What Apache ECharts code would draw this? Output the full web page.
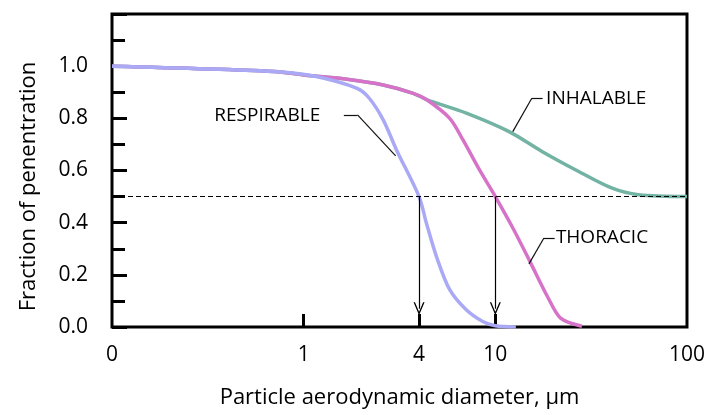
<!DOCTYPE html>
<html>
<head>
<meta charset="utf-8">
<script src="https://cdn.jsdelivr.net/npm/echarts@6/dist/echarts.min.js"></script>
<style>
  html, body { margin: 0; padding: 0; background: #fff; }
  #chart { width: 708px; height: 415px; }
</style>
</head>
<body>
<div id="chart"></div>
<script>
// particle diameter (µm) and fraction values
var respirable = [
  [0.1, 1.0], [0.7, 0.98], [1.13, 0.962], [1.9, 0.915], [2.2, 0.877],
  [2.6, 0.794], [3.05, 0.679], [4, 0.5], [4.37, 0.398], [4.93, 0.27],
  [5.78, 0.143], [7.05, 0.066], [8.6, 0.021], [10, 0.005], [12.8, 0.0]
];
var thoracic = [
  [0.1, 1.0], [0.7, 0.98], [1.13, 0.962], [1.68, 0.95], [2.6, 0.928],
  [3.73, 0.896], [4.37, 0.872], [5.78, 0.80], [6.78, 0.717], [8.27, 0.602],
  [10, 0.5], [12.5, 0.372], [15.3, 0.245], [18.7, 0.117], [21.9, 0.034], [28.3, 0.003]
];
var inhalable = [
  [0.1, 1.0], [0.7, 0.98], [1.13, 0.962], [1.68, 0.95], [2.6, 0.928],
  [3.73, 0.896], [4.37, 0.872], [7.06, 0.82], [11.8, 0.749], [17.6, 0.672],
  [26.3, 0.602], [40.7, 0.532], [56, 0.507], [100, 0.5]
];

var xLabelValues = [0.1, 1, 4, 10, 100];
var xLabelText = ['0', '1', '4', '10', '100'];
var xTickValues = [1, 4, 10];
var cutoff = 0.5;
var cutPoints = [4, 10];

// annotation text and leader lines (data coordinates)
var notes = [
  { name: 'RESPIRABLE', at: [1.22, 0.81], side: 'right',
    leader: [[1.62, 0.813], [1.91, 0.813], [3.02, 0.656]] },
  { name: 'INHALABLE', at: [18.4, 0.877], side: 'left',
    leader: [[17.65, 0.877], [15.5, 0.877], [12.33, 0.749]] },
  { name: 'THORACIC', at: [20.7, 0.341], side: 'left',
    leader: [[20.4, 0.341], [17.93, 0.341], [14.98, 0.242]] }
];

var FONT = 'Open Sans';
var chart = echarts.init(document.getElementById('chart'));

var leaderLines = [];
notes.forEach(function (n) {
  for (var i = 0; i < n.leader.length - 1; i++) {
    leaderLines.push([{ coord: n.leader[i] }, { coord: n.leader[i + 1] }]);
  }
});

var arrowLines = cutPoints.map(function (x) {
  return [{ coord: [x, cutoff] }, { coord: [x, 0.07] }];
});

var notePoints = notes.map(function (n) {
  return {
    coord: n.at,
    label: { formatter: n.name, align: n.side }
  };
});

chart.setOption({
  animation: false,
  grid: {
    left: 112, right: 18, top: 14, bottom: 88,
    show: true, borderColor: '#000', borderWidth: 3
  },
  xAxis: {
    type: 'log',
    logBase: 10,
    min: 0.1,
    max: 100,
    name: 'Particle aerodynamic diameter, µm',
    nameLocation: 'middle',
    nameGap: 60,
    nameTextStyle: { fontFamily: FONT, fontSize: 22, color: '#000' },
    axisLine: { show: false },
    splitLine: { show: false },
    minorTick: { show: false },
    axisTick: {
      inside: true, length: 13, customValues: xTickValues,
      lineStyle: { color: '#000', width: 3 }
    },
    axisLabel: {
      customValues: xLabelValues,
      margin: 18,
      fontFamily: FONT, fontSize: 21, color: '#000',
      formatter: function (v) {
        for (var i = 0; i < xLabelValues.length; i++) {
          if (Math.abs(v - xLabelValues[i]) < 1e-6 * xLabelValues[i]) return xLabelText[i];
        }
        return '';
      }
    }
  },
  yAxis: {
    type: 'value',
    min: 0,
    max: 1.2,
    interval: 0.2,
    name: 'Fraction of penentration',
    nameLocation: 'middle',
    nameGap: 72,
    nameTextStyle: { fontFamily: FONT, fontSize: 22, color: '#000', padding: [0, 32, 0, 0] },
    axisLine: { show: false },
    splitLine: { show: false },
    axisTick: { inside: true, length: 15, lineStyle: { color: '#000', width: 3 } },
    minorTick: { show: true, splitNumber: 2, length: 13, lineStyle: { color: '#000', width: 3 } },
    axisLabel: {
      margin: 24,
      fontFamily: FONT, fontSize: 21, color: '#000',
      formatter: function (v) { return v > 1.05 ? '' : v.toFixed(1); }
    }
  },
  series: [
    {
      name: 'INHALABLE',
      type: 'line',
      data: inhalable,
      symbol: 'none',
      smooth: 0.3,
      z: 2,
      lineStyle: { color: '#72b3a3', width: 3.5 },
      markLine: {
        silent: true,
        symbol: 'none',
        lineStyle: { color: '#111', width: 1.2, type: 'solid' },
        label: { show: false },
        data: leaderLines
      },
      markPoint: {
        silent: true,
        symbol: 'circle',
        symbolSize: 1,
        itemStyle: { color: 'rgba(0,0,0,0)' },
        label: {
          show: true, position: 'inside', verticalAlign: 'middle',
          fontFamily: FONT, fontSize: 19, color: '#000'
        },
        data: notePoints
      }
    },
    {
      name: 'THORACIC',
      type: 'line',
      data: thoracic,
      symbol: 'none',
      smooth: 0.3,
      z: 3,
      lineStyle: { color: '#d673c9', width: 3.5 },
      markLine: {
        silent: true,
        symbol: ['none', 'path://M5,0 L10,12 L8.7,12 L5,3.2 L1.3,12 L0,12 Z'],
        symbolSize: [11, 13],
        lineStyle: { color: '#000', width: 1.2, type: 'solid' },
        label: { show: false },
        data: arrowLines
      }
    },
    {
      name: 'RESPIRABLE',
      type: 'line',
      data: respirable,
      symbol: 'none',
      smooth: 0.3,
      z: 4,
      lineStyle: { color: '#a9a9f6', width: 3.5 },
      markLine: {
        silent: true,
        symbol: 'none',
        lineStyle: { color: '#000', width: 1.2, type: [5, 3] },
        label: { show: false },
        data: [{ yAxis: cutoff }]
      }
    }
  ]
});
</script>
</body>
</html>
